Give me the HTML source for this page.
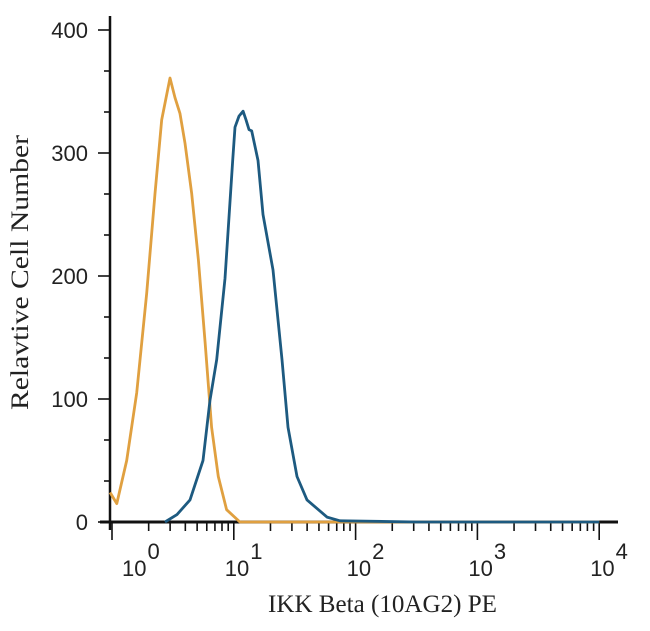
<!DOCTYPE html>
<html><head><meta charset="utf-8"><style>
body{margin:0;background:#fff;width:650px;height:631px;overflow:hidden}
svg{display:block}
.tl{font-family:"Liberation Sans",sans-serif;font-size:22px;fill:#222}
.ti{font-family:"Liberation Serif",serif;font-size:25px;fill:#222}
</style></head><body>
<svg id="c" width="650" height="631"></svg>
<script>
const yTicks=[0,100,200,300,400];
const decades=[0,1,2,3,4];
const isoLog=[-0.016,0.039,0.121,0.203,0.285,0.353,0.408,0.476,0.517,0.558,0.599,0.654,0.709,0.764,0.818,0.873,0.941,1.05,1.5,2.5,4];
const isoVal=[24,15,50,105,186,267,327,361,345,332,308,267,213,146,77,37,10,0,0,0,0];
const ikkLog=[0.435,0.534,0.640,0.747,0.805,0.860,0.928,0.991,1.010,1.043,1.076,1.100,1.125,1.147,1.199,1.240,1.322,1.396,1.445,1.519,1.601,1.765,1.872,2.5,4];
const ikkVal=[0,6,18,50,99,132,198,294,321,330,334,327,319,318,294,250,205,132,77,37,18,4,1,0,0];
const NS="http://www.w3.org/2000/svg";
const svg=document.getElementById('c');
const X=l=>112+l*121.8, Y=v=>522-v*1.23;
function mk(t,a){const e=document.createElementNS(NS,t);for(const k in a)e.setAttribute(k,a[k]);svg.appendChild(e);return e;}
let e;
e=mk('line',{x1:110,y1:16,x2:110,y2:530,stroke:'#111','stroke-width':2.5});


e=mk('line',{x1:100,y1:522,x2:618,y2:522,stroke:'#111','stroke-width':3});


for(let i=0;i<=12;i++){const v=i*100/3;const big=i%3===0;
 e=mk('line',{x1:big?98:104,y1:Y(v),x2:110,y2:Y(v),stroke:'#111','stroke-width':1.6});
 
 }
yTicks.forEach(v=>{e=mk('text',{x:88,y:Y(v)+8,'text-anchor':'end',class:'tl'});e.textContent=v;
 
 });
decades.forEach(d=>{
 e=mk('line',{x1:X(d),y1:522,x2:X(d),y2:540,stroke:'#111','stroke-width':1.6});
 
 
 if(d<4)for(let m=2;m<10;m++){e=mk('line',{x1:X(d+Math.log10(m)),y1:522,x2:X(d+Math.log10(m)),y2:531,stroke:'#111','stroke-width':1.6});
  
  }
 e=mk('text',{x:d===0?X(d)+10:X(d)-9,y:576,'text-anchor':'start',class:'tl'});
 e.innerHTML='10<tspan dx="1" dy="-17" font-size="22">'+d+'</tspan>';
 
 });
function curve(ls,vs,col,name){let d='';ls.forEach((l,i)=>{d+=(i?'L':'M')+X(l).toFixed(1)+','+Y(vs[i]).toFixed(1);});
 e=mk('path',{d:d,fill:'none',stroke:col,'stroke-width':2.8,'stroke-linejoin':'round'});
 
 }
curve(isoLog,isoVal,'#e0a040','isotype-control-curve');
curve(ikkLog,ikkVal,'#1d5a80','ikk-beta-curve');
e=mk('text',{x:268,y:612,class:'ti',textLength:229,lengthAdjust:'spacingAndGlyphs'});e.textContent='IKK Beta (10AG2) PE';


e=mk('text',{x:0,y:0,class:'ti',textLength:275,lengthAdjust:'spacingAndGlyphs',transform:'translate(28,410) rotate(-90)'});e.textContent='Relavtive Cell Number';


</script>
</body></html>
